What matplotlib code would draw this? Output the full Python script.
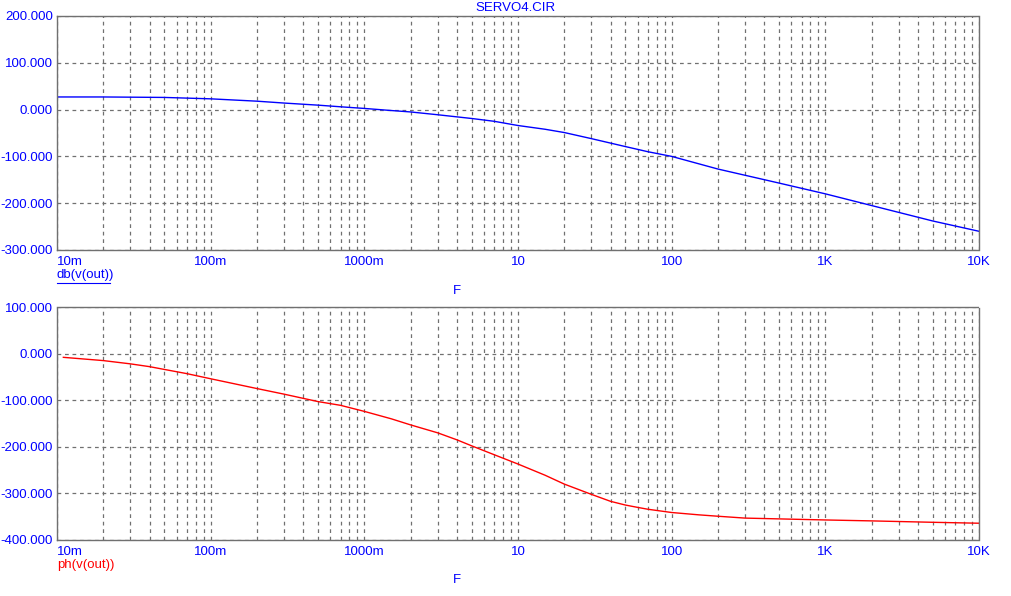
import numpy as np
import matplotlib
matplotlib.use("Agg")
import matplotlib.pyplot as plt
from matplotlib.ticker import FixedLocator, LogLocator, NullFormatter

plt.rcParams['font.family'] = ['Liberation Sans', 'DejaVu Sans']

title = "SERVO4.CIR"
freq_db = [0.01, 0.02, 0.05, 0.1, 0.2, 0.3, 0.5, 0.7, 1, 1.5, 2, 3, 5, 7, 10, 15, 20, 30, 50, 70,
           100, 200, 500, 1000, 2000, 5000, 10000]
db_vals = [27, 27, 26, 23, 18, 14, 9.5, 6, 2.5, -2, -5, -11, -19, -25, -34, -42, -49, -62, -79, -90,
           -100, -127, -157, -180, -205, -238, -260]

freq_ph = [0.011, 0.02, 0.03, 0.04, 0.05, 0.07, 0.1, 0.2, 0.3, 0.5, 0.7, 1, 1.5, 2, 3, 4, 5, 7, 10, 15, 20, 30,
           40, 50, 60, 70, 100, 150, 200, 300, 1000, 2000, 5000, 10000]
ph_vals = [-8, -15, -22, -28, -34, -43, -54, -75, -87, -103, -111, -124, -140, -153, -170, -185, -198, -217, -237, -261, -280, -302,
           -317, -325, -330, -334, -341, -346, -349, -353, -357, -359, -362, -364]

x_ticks = [0.01, 0.1, 1, 10, 100, 1000, 10000]
x_labels = ["10m", "100m", "1000m", "10", "100", "1K", "10K"]
db_ticks = [200, 100, 0, -100, -200, -300]
ph_ticks = [100, 0, -100, -200, -300, -400]

BLUE = "#0000ff"
RED = "#ff0000"
GRID = "#707070"

fig = plt.figure(figsize=(10.12, 5.96), dpi=100)
W, H = 1012, 596

def make_ax(top_px, bot_px):
    left, right = 57, 979
    ax = fig.add_axes([left / W, 1 - bot_px / H, (right - left) / W, (bot_px - top_px) / H])
    return ax

def style(ax, yticks):
    ax.set_xscale('log')
    ax.set_xlim(0.01, 10000)
    ax.set_ylim(min(yticks), max(yticks))
    ax.xaxis.set_major_locator(FixedLocator(x_ticks))
    ax.xaxis.set_minor_locator(LogLocator(base=10, subs=np.arange(2, 10), numticks=50))
    ax.xaxis.set_minor_formatter(NullFormatter())
    ax.set_xticks(x_ticks)
    ax.set_xticklabels(x_labels)
    ax.set_yticks(yticks)
    ax.set_yticklabels([f"{v:.3f}" for v in yticks])
    ax.tick_params(axis='both', which='both', length=0, labelsize=9.5, labelcolor=BLUE, pad=3)
    ax.tick_params(axis='x', pad=4)
    labs = ax.get_xticklabels()
    labs[0].set_horizontalalignment('left')
    ax.grid(True, which='major', axis='both', color=GRID, linestyle=(0, (3, 3)), linewidth=0.9)
    ax.grid(True, which='minor', axis='x', color=GRID, linestyle=(0, (3, 3)), linewidth=0.9)
    for sp in ax.spines.values():
        sp.set_color(GRID)
        sp.set_linestyle((0, (1, 1)))
        sp.set_linewidth(1.0)

ax1 = make_ax(16, 250)
ax1.plot(freq_db, db_vals, color=BLUE, linewidth=1.0)
style(ax1, db_ticks)

ax2 = make_ax(307, 540)
ax2.plot(freq_ph, ph_vals, color=RED, linewidth=1.0)
style(ax2, ph_ticks)

fig.text(515 / W, 1 - 8 / H, title, color=BLUE, fontsize=9.5, ha='center', va='center')
fig.text(57 / W, 1 - 275 / H, "db(v(out))", color=BLUE, fontsize=9.5, ha='left', va='center')
fig.add_artist(plt.Line2D([57 / W, 110 / W], [1 - 283 / H, 1 - 283 / H], color=BLUE, linewidth=0.8))
fig.text(457 / W, 1 - 291 / H, "F", color=BLUE, fontsize=9.5, ha='center', va='center')
fig.text(57 / W, 1 - 565 / H, "ph(v(out))", color=RED, fontsize=9.5, ha='left', va='center')
fig.text(457 / W, 1 - 580 / H, "F", color=BLUE, fontsize=9.5, ha='center', va='center')

fig.savefig("out.png", dpi=100, facecolor='white')
